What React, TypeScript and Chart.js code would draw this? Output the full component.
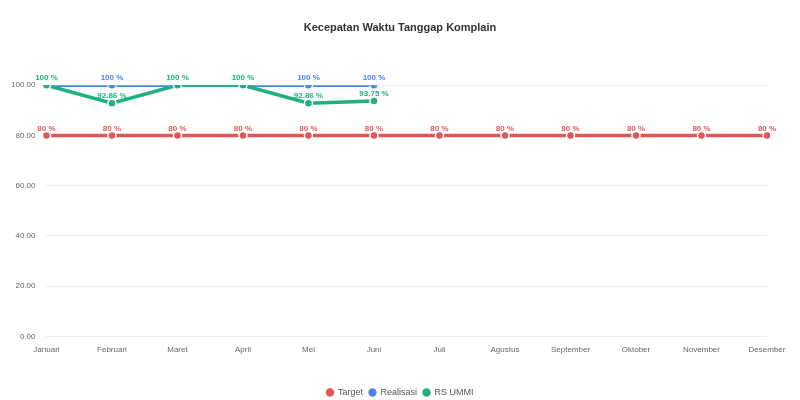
import { useEffect, useRef } from "react";
import { Chart, registerables, type Plugin } from "chart.js";

Chart.register(...registerables);

const months = [
  "Januari", "Februari", "Maret", "April", "Mei", "Juni",
  "Juli", "Agustus", "September", "Oktober", "November", "Desember",
];
const targetValues = [80, 80, 80, 80, 80, 80, 80, 80, 80, 80, 80, 80];
const realisasiValues = [100, 100, 100, 100, 100, 100];
const rsUmmiValues = [100, 92.86, 100, 100, 92.86, 93.75];

const RED = "#e05757";
const BLUE = "#4a87e8";
const GREEN = "#1fb07c";
const FONT = "'Liberation Sans', Arial, sans-serif";

// draws "xx %" above each point, like the datalabels plugin would;
// where two labels sit on the same spot only the last dataset's is kept
const pointLabels: Plugin<"line"> = {
  id: "pointLabels",
  afterDatasetsDraw(chart) {
    const ctx = chart.ctx;
    const items: { x: number; y: number; text: string; color: string }[] = [];
    chart.data.datasets.forEach((ds, i) => {
      const meta = chart.getDatasetMeta(i);
      if (meta.hidden) return;
      meta.data.forEach((pt, j) => {
        const v = ds.data[j] as number;
        if (v == null) return;
        items.push({ x: pt.x, y: pt.y, text: `${v} %`, color: ds.borderColor as string });
      });
    });
    ctx.save();
    ctx.font = `bold 8px ${FONT}`;
    ctx.textAlign = "center";
    ctx.textBaseline = "bottom";
    items.forEach((it, k) => {
      const covered = items
        .slice(k + 1)
        .some((o) => Math.abs(o.x - it.x) < 1 && Math.abs(o.y - it.y) < 1);
      if (covered) return;
      ctx.fillStyle = it.color;
      ctx.fillText(it.text, it.x, it.y - 3);
    });
    ctx.restore();
  },
};

export default function App() {
  const canvasRef = useRef<HTMLCanvasElement>(null);

  useEffect(() => {
    document.body.style.margin = "0";
    if (!canvasRef.current) return;

    const mk = (label: string, data: number[], color: string, order: number) => ({
      label,
      data,
      order,
      borderColor: color,
      backgroundColor: color,
      pointBackgroundColor: color,
      pointBorderColor: "#fff",
      pointBorderWidth: 1.5,
      pointRadius: 4,
      borderWidth: 3.5,
    });

    const chart = new Chart(canvasRef.current, {
      type: "line",
      data: {
        labels: months,
        datasets: [
          mk("Target", targetValues, RED, 3),
          mk("Realisasi", realisasiValues, BLUE, 2),
          mk("RS UMMI", rsUmmiValues, GREEN, 1),
        ],
      },
      options: {
        responsive: true,
        maintainAspectRatio: false,
        animation: false,
        layout: { padding: { top: 8, right: 0, bottom: -7, left: 0 } },
        plugins: {
          title: {
            display: true,
            text: "Kecepatan Waktu Tanggap Komplain",
            color: "#333",
            font: { size: 11, weight: "bold", family: FONT },
            padding: { top: 13, bottom: 51 },
          },
          legend: {
            position: "bottom",
            labels: {
              usePointStyle: true,
              pointStyle: "circle",
              boxWidth: 7,
              boxHeight: 7,
              color: "#555",
              font: { size: 9, family: FONT },
              padding: 6,
              sort: (a, b) => (a.datasetIndex ?? 0) - (b.datasetIndex ?? 0),
            },
          },
          tooltip: { enabled: false },
        },
        scales: {
          x: {
            grid: { display: false },
            border: { display: false },
            ticks: { color: "#666", font: { size: 8, family: FONT }, padding: 1 },
            afterFit: (axis) => {
              axis.height += 26;
              axis.paddingRight = 33;
            },
          },
          y: {
            min: 0,
            max: 100,
            ticks: {
              stepSize: 20,
              color: "#666",
              font: { size: 8, family: FONT },
              padding: 11,
              callback: (v) => Number(v).toFixed(2),
            },
            grid: { color: "#ececec", drawTicks: false },
            border: { display: false },
          },
        },
      },
      plugins: [pointLabels],
    });

    return () => chart.destroy();
  }, []);

  return (
    <div style={{ width: 800, height: 400, position: "relative", background: "#fff" }}>
      <canvas ref={canvasRef} />
    </div>
  );
}
